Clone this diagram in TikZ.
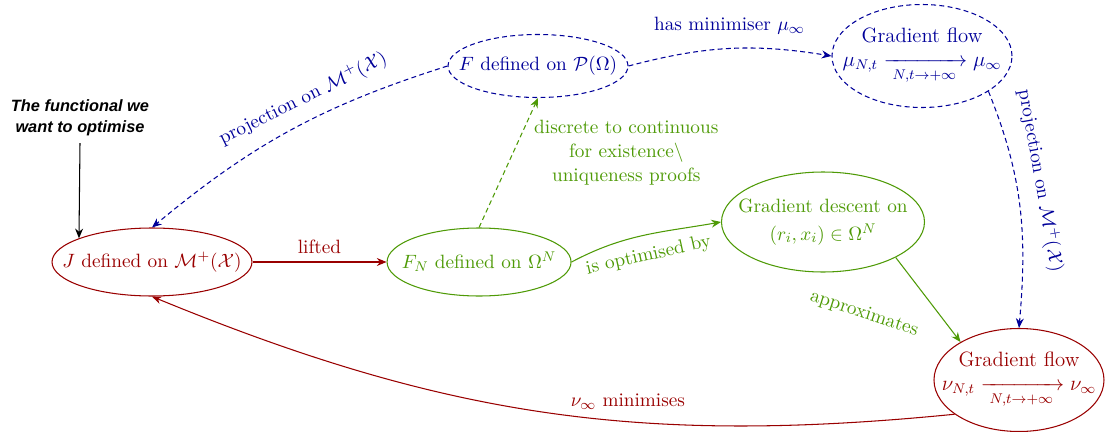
\documentclass[tikz,border=0pt,11pt]{standalone}
\usepackage{amsmath}
\usepackage{fontspec}
\newfontfamily\notefont{Liberation Sans}
\usepackage{tikz}
\usetikzlibrary{shapes.geometric, positioning, arrows.meta}
\definecolor{DarkRed}{HTML}{990000}
\definecolor{Navy}{HTML}{000099}
\definecolor{Leaf}{HTML}{4E9A06}

\begin{document}
\begin{tikzpicture}[>={Stealth[length=5.5pt, width=4.5pt]}, line width=0.6pt]
  \tikzstyle{blob} = [ellipse, draw, inner xsep=-0.5cm, inner ysep=0pt, align=center]
  \tikzstyle{redblob} = [blob, draw=DarkRed, text=DarkRed]
  \tikzstyle{greenblob} = [blob, draw=Leaf, text=Leaf]
  \tikzstyle{blueblob} = [blob, draw=Navy, text=Navy, dashline]
  \tikzstyle{dashline} = [dash pattern=on 2.8pt off 1.9pt]
  \tikzstyle{flow} = [font=\fontsize{11.8}{14}\selectfont]
  \tikzstyle{note} = [align=center, font=\notefont\fontsize{9.3}{12}\selectfont\bfseries\itshape]

  \useasboundingbox (0,0) rectangle (22.1,8.62);

  \node [redblob, minimum width=4cm, minimum height=1.36cm] (J) at (3.04,3.38) {$J$ defined on $\mathcal{M}^+(\mathcal{X})$};
  \node [greenblob, minimum width=3.68cm, minimum height=1.36cm, right=2.68cm of J] (FN) {$F_N$ defined on $\Omega^N$};
  \node [blueblob, minimum width=3.6cm, minimum height=1.26cm] (F) at (10.76,7.30) {$F$ defined on $\mathcal{P}(\Omega)$};
  \node [blueblob, flow, minimum width=3.6cm, minimum height=2.06cm] (gflowtop) at (18.44,7.50)
    {Gradient flow\\ $\mu_{N,t}\xrightarrow[\;N,t\to+\infty\;]{}\mu_\infty$};
  \node [greenblob, minimum width=4.06cm, minimum height=2cm] (GD) at (16.46,4.18)
    {Gradient descent on\\[2pt] $(r_i,x_i)\in\Omega^N$};
  \node [redblob, flow, minimum width=3.4cm, minimum height=2.06cm] (gflowbot) at (20.38,1.02)
    {Gradient flow\\ $\nu_{N,t}\xrightarrow[\;N,t\to+\infty\;]{}\nu_\infty$};

  \node [note] (goal) at (1.6,6.26) {The functional we\\ want to optimise};
  \draw[->] (goal.south) -- (J.162);

  % red: the problem we start from
  \draw[->, DarkRed] (J) -- node[above=1pt] {lifted} (FN);
  \draw[->, DarkRed] (gflowbot.208) to[bend left=14] node[pos=0.39, above=3pt] {$\nu_\infty$ minimises} (J.south);

  % green: the discrete problem
  \draw[->, Leaf] (FN.east) to[out=28, in=190] node[midway, below=3pt, sloped] {is optimised by} (GD.west);
  \draw[->, Leaf, dashline] (FN.north) -- node[pos=0.58, right=8pt, align=center]
    {discrete to continuous\\ for existence\textbackslash\\ uniqueness proofs} (F.south);
  \draw[->, Leaf] (GD.-26) -- node[midway, xshift=-1.28cm, yshift=-0.28cm, rotate=-18] {approximates} (gflowbot.147);

  % blue: the continuous problem
  \draw[->, Navy, dashline] (F.east) to[bend left=12] node[above=4pt] {has minimiser $\mu_\infty$} (gflowtop.west);
  \draw[->, Navy, dashline] (F.west) to[bend right=11] node[pos=0.42, above=3pt, sloped] {projection on $\mathcal{M}^+(\mathcal{X})$} (J.north);
  \draw[->, Navy, dashline] (gflowtop.-28) to[out=-68, in=85] node[pos=0.4, above=4pt, sloped] {projection on $\mathcal{M}^+(\mathcal{X})$} (gflowbot.north);
\end{tikzpicture}
\end{document}
